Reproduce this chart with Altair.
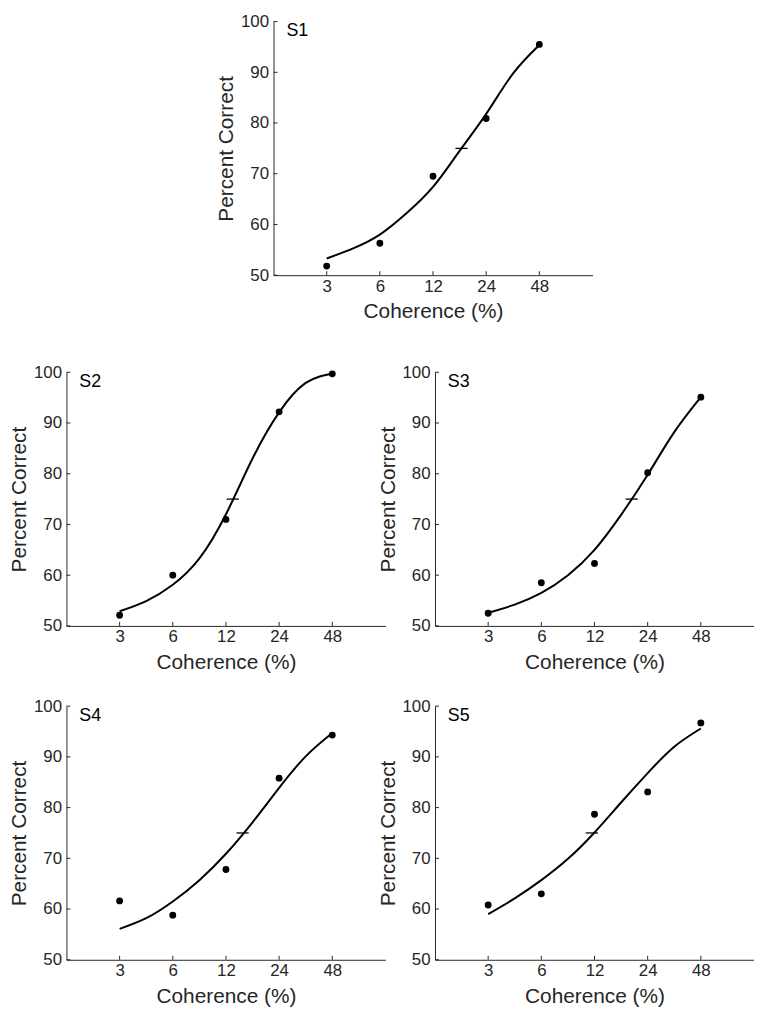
import altair as alt
import pandas as pd

# ---- data ----
coherence = [3, 6, 12, 24, 48]
s1_pc = [51.8, 56.3, 69.5, 80.9, 95.5]
s2_pc = [52.1, 60.0, 71.0, 92.2, 99.7]
s3_pc = [52.5, 58.5, 62.3, 80.2, 95.1]
s4_pc = [61.6, 58.8, 67.8, 85.8, 94.3]
s5_pc = [60.8, 63.0, 78.7, 83.1, 96.7]

fit_x = [3, 4.24, 6, 8.49, 12, 16.97, 24, 33.94, 48]
s1_fit = [53.3, 55.3, 58.0, 62.2, 67.4, 74.5, 81.8, 89.7, 95.4]
s2_fit = [52.9, 54.9, 58.1, 63.3, 72.0, 83.0, 92.1, 97.9, 99.7]
s3_fit = [52.6, 54.2, 56.5, 60.0, 65.0, 71.9, 79.8, 88.2, 95.1]
s4_fit = [56.1, 58.2, 61.5, 65.7, 70.9, 77.1, 83.9, 90.1, 94.7]
s5_fit = [59.0, 62.1, 65.7, 69.9, 75.1, 81.0, 86.8, 92.0, 95.6]

thresholds = [17.4, 13.1, 19.5, 14.9, 11.6]
threshold_level = 75
subjects = ["S1", "S2", "S3", "S4", "S5"]
y_ticks = [50, 60, 70, 80, 90, 100]

W, H = 322, 256
INK = "#262626"
FONT = "Liberation Sans"

xs = alt.Scale(type="log", domain=[1.5, 96], nice=False)
ys = alt.Scale(domain=[50, 100], nice=False, zero=False)
x_axis = alt.Axis(values=coherence, format="d", title="Coherence (%)", labelPadding=3, titlePadding=7)
y_axis = alt.Axis(values=y_ticks, title="Percent Correct", labelPadding=5, titlePadding=4)


def panel(name, pc, fit, thr):
    fit_df = pd.DataFrame({"c": fit_x, "p": fit})
    pt_df = pd.DataFrame({"c": coherence, "p": pc})
    thr_df = pd.DataFrame({"c": [thr], "p": [threshold_level]})
    xt_df = pd.DataFrame({"c": coherence})
    yt_df = pd.DataFrame({"p": y_ticks})
    lab_df = pd.DataFrame({"t": [name]})

    line = alt.Chart(fit_df).mark_line(color="black", strokeWidth=2, interpolate="natural").encode(
        x=alt.X("c:Q", scale=xs, axis=x_axis),
        y=alt.Y("p:Q", scale=ys, axis=y_axis),
    )
    pts = alt.Chart(pt_df).mark_circle(color="black", size=48, opacity=1).encode(
        x=alt.X("c:Q", scale=xs), y=alt.Y("p:Q", scale=ys)
    )
    thm = alt.Chart(thr_df).mark_point(shape="stroke", size=150, stroke="black", strokeWidth=1.3, filled=False, opacity=1).encode(
        x=alt.X("c:Q", scale=xs), y=alt.Y("p:Q", scale=ys)
    )
    xt = alt.Chart(xt_df).mark_rule(color=INK, strokeWidth=1).encode(
        x=alt.X("c:Q", scale=xs), y=alt.value(H), y2=alt.value(H - 4)
    )
    yt = alt.Chart(yt_df).mark_rule(color=INK, strokeWidth=1).encode(
        y=alt.Y("p:Q", scale=ys), x=alt.value(0), x2=alt.value(4)
    )
    lab = alt.Chart(lab_df).mark_text(font=FONT, fontSize=18, color="black", align="left", baseline="alphabetic").encode(
        text="t:N", x=alt.value(13), y=alt.value(15)
    )
    return alt.layer(xt, yt, line, thm, pts, lab).properties(width=W, height=H)


panels = [panel(n, p, f, t) for n, p, f, t in zip(subjects, [s1_pc, s2_pc, s3_pc, s4_pc, s5_pc],
                                                    [s1_fit, s2_fit, s3_fit, s4_fit, s5_fit], thresholds)]

spacer = alt.Chart(pd.DataFrame({"a": [0]})).mark_point(opacity=0, size=1).encode(
    x=alt.X("a:Q", axis=None), y=alt.Y("a:Q", axis=None)
).properties(width=150, height=320)

row1 = alt.hconcat(spacer, panels[0], spacing=0)
row2 = alt.hconcat(panels[1], panels[2], spacing=-9)
row3 = alt.hconcat(panels[3], panels[4], spacing=-9)

chart = alt.vconcat(row1, row2, row3, spacing=25).properties(
    padding=0
).configure_view(stroke=None).configure_axis(
    domainColor=INK, domainWidth=1, ticks=False, tickSize=0, grid=False,
    labelFont=FONT, labelFontSize=17, labelColor=INK,
    titleFont=FONT, titleFontSize=21, titleFontWeight="normal", titleColor=INK,
)

chart.save("out.html", embed_options={"renderer": "svg", "actions": False})
